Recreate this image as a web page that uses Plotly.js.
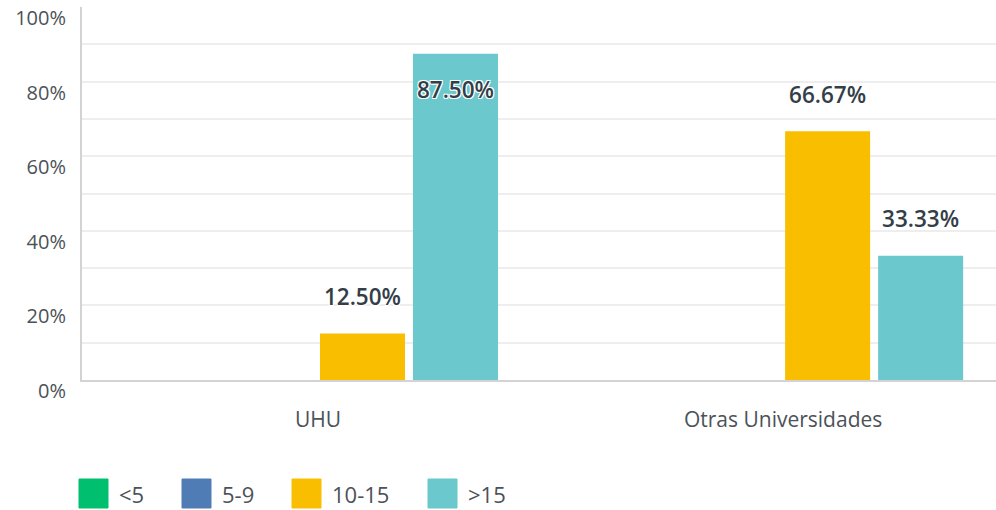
<!DOCTYPE html>
<html>
<head>
<meta charset="utf-8">
<script src="https://cdn.plot.ly/plotly-3.0.1.min.js"></script>
<style>html,body{margin:0;padding:0;background:#fff;}#chart{width:996px;height:510px;}</style>
</head>
<body>
<div id="chart"></div>
<script>
const categories = ["UHU", "Otras Universidades"];
const seriesNames = ["<5", "5-9", "10-15", ">15"];
const seriesColors = ["#00bf6f", "#507cb6", "#f9be00", "#6bc8cd"];
const valsLt5 = [0, 0];
const vals5to9 = [0, 0];
const vals10to15 = [12.5, 66.67];
const valsGt15 = [87.5, 33.33];
const yTickVals = [0, 20, 40, 60, 80, 100];
const yTickText = ["0%", "20%", "40%", "60%", "80%", "100%"];

const seriesValues = [valsLt5, vals5to9, vals10to15, valsGt15];
const FONT = "'Open Sans', Inter, sans-serif";
const LBL = "<span style='font-size:22.5px'>%{text}</span>";

const traces = seriesValues.map((vals, i) => ({
  type: "bar",
  name: seriesNames[i],
  x: categories,
  y: vals,
  marker: { color: seriesColors[i] },
  text: vals.map(v => v > 0 ? v.toFixed(2) + "%" : ""),
  textposition: vals.map(v => v > 80 ? "inside" : "outside"),
  insidetextanchor: "end",
  constraintext: "none",
  texttemplate: vals.map(v => v > 0 ? (v > 80 ? "<span style='font-size:20px'> </span><br>" + LBL : LBL + "<br> ") : ""),
  textfont: { family: FONT, size: 16, color: "#333e48", weight: 600,
              shadow: "1px 1px 0 #fff, -1px -1px 0 #fff, 1px -1px 0 #fff, -1px 1px 0 #fff" },
  cliponaxis: false,
  hoverinfo: "skip",
  showlegend: false
}));

// custom legend (squares + labels) in paper coordinates
const W = 914, H = 373, L = 82, T = 7;
const legendLeft = [79, 182, 292, 428];
const shapes = [], annotations = [];
seriesNames.forEach((n, i) => {
  const x0 = (legendLeft[i] - L) / W, x1 = (legendLeft[i] + 29 - L) / W;
  const y0 = (T + H - 508) / H, y1 = (T + H - 479) / H;
  shapes.push({ type: "rect", xref: "paper", yref: "paper", x0, x1, y0, y1,
    fillcolor: seriesColors[i], line: { width: 1, color: seriesColors[i] }, layer: "above" });
  annotations.push({ xref: "paper", yref: "paper", x: (legendLeft[i] + 38 - L) / W, y: (T + H - 494) / H,
    xanchor: "left", yanchor: "middle", text: n, showarrow: false,
    font: { family: FONT, size: 22, color: "#4b5258" } });
});

const layout = {
  width: 996, height: 510,
  margin: { l: L, r: 0, t: T, b: 510 - T - H },
  paper_bgcolor: "#fff", plot_bgcolor: "#fff",
  barmode: "group", bargap: 0.2, bargroupgap: 0.086,
  showlegend: false,
  xaxis: {
    type: "category", range: [-0.503, 1.462],
    showline: true, linecolor: "#d3d3d3", linewidth: 2,
    ticks: "", showgrid: false, zeroline: false,
    tickfont: { family: FONT, size: 21, color: "#4b5258" },
    ticklabelstandoff: 20, ticklabelshift: 2, fixedrange: true
  },
  yaxis: {
    range: [0, 100], tickvals: yTickVals, ticktext: yTickText,
    showline: true, linecolor: "#d3d3d3", linewidth: 2,
    showgrid: true, gridcolor: "#eeeeee", gridwidth: 2,
    minor: { dtick: 10, showgrid: true, gridcolor: "#eeeeee", gridwidth: 2 },
    zeroline: false, ticks: "",
    tickfont: { family: FONT, size: 20, color: "#4b5258" },
    ticklabelshift: 11, ticklabelstandoff: 10, fixedrange: true
  },
  shapes, annotations
};

Plotly.newPlot("chart", traces, layout, { displayModeBar: false, staticPlot: true });
</script>
</body>
</html>
